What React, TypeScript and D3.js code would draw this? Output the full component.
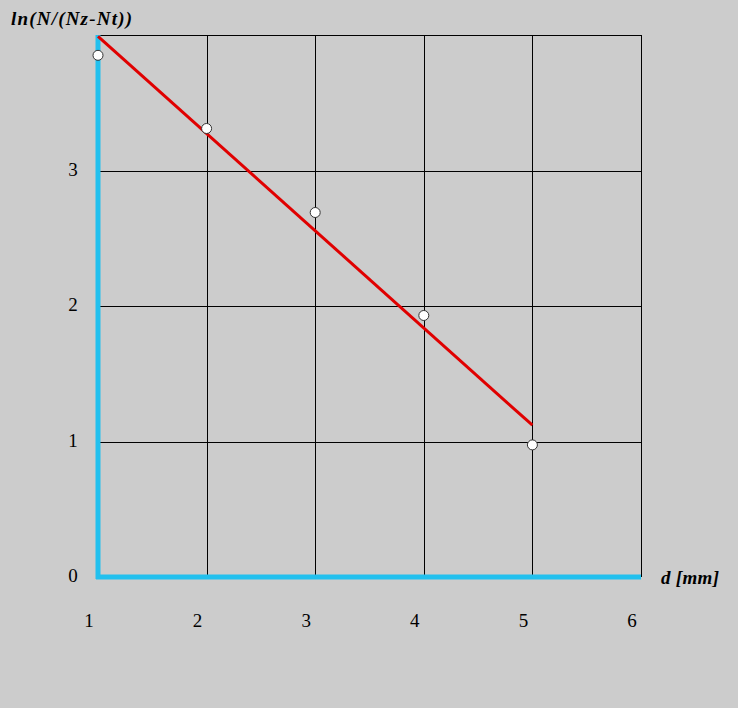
import React from "react";
import * as d3 from "d3";

const xTicks = [1, 2, 3, 4, 5, 6];
const yTicks = [0, 1, 2, 3];
const pointsX = [1, 2, 3, 4, 5];
const pointsY = [3.85, 3.31, 2.69, 1.93, 0.975];
const fitX = [1, 5];
const fitY = [3.99, 1.12];

const W = 738;
const H = 708;

export default function App() {
  const x = d3.scaleLinear().domain([1, 6]).range([98, 641]);
  const y = d3.scaleLinear().domain([0, 4]).range([577, 35]);
  const line = d3
    .line<number>()
    .x((_, i) => x(fitX[i]))
    .y((d) => y(d));
  const font = "'Liberation Serif', 'Times New Roman', serif";
  return (
    <svg
      width={W}
      height={H}
      style={{ position: "absolute", left: 0, top: 0, background: "#cccccc" }}
    >
      <rect x={0} y={0} width={W} height={H} fill="#cccccc" />
      {[1, 2, 3, 4].map((v) => (
        <line key={"h" + v} x1={x(1)} x2={x(6)} y1={Math.round(y(v)) + 0.5} y2={Math.round(y(v)) + 0.5} stroke="#000" strokeWidth={1} />
      ))}
      {[2, 3, 4, 5, 6].map((v) => (
        <line key={"v" + v} x1={Math.round(x(v)) + 0.5} x2={Math.round(x(v)) + 0.5} y1={y(4)} y2={y(0)} stroke="#000" strokeWidth={1} />
      ))}
      <line x1={x(1)} x2={x(1)} y1={y(4)} y2={y(0) + 2} stroke="#22c0ee" strokeWidth={5} />
      <line x1={x(1) - 2} x2={x(6)} y1={y(0)} y2={y(0)} stroke="#22c0ee" strokeWidth={5} />
      <path d={line(fitY) || ""} fill="none" stroke="#e00000" strokeWidth={3} />
      {pointsX.map((px, i) => (
        <circle key={i} cx={x(px)} cy={y(pointsY[i])} r={5} fill="#ffffff" stroke="#333" strokeWidth={1} />
      ))}
      {yTicks.map((v) => (
        <text key={"yt" + v} x={73} y={y(v) + 5} fontFamily={font} fontSize={19} textAnchor="middle" fill="#000">
          {v}
        </text>
      ))}
      {xTicks.map((v) => (
        <text key={"xt" + v} x={x(v) - 9} y={627} fontFamily={font} fontSize={19} textAnchor="middle" fill="#000">
          {v}
        </text>
      ))}
      <text x={11} y={25} fontFamily={font} fontSize={19} fontWeight="bold" fontStyle="italic" letterSpacing={1.2} fill="#000">
        ln(N/(Nz-Nt))
      </text>
      <text x={661} y={584} fontFamily={font} fontSize={19} fontWeight="bold" fontStyle="italic" letterSpacing={0.3} fill="#000">
        d [mm]
      </text>
    </svg>
  );
}
